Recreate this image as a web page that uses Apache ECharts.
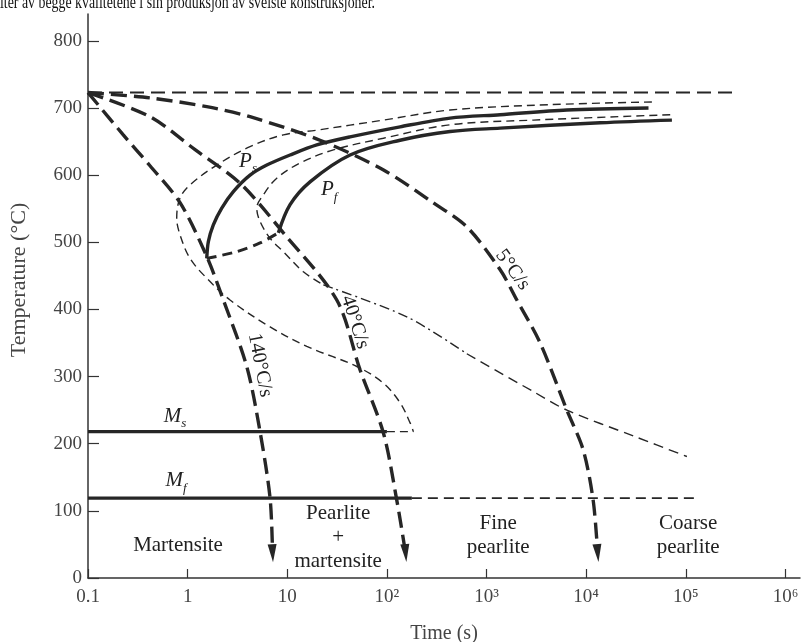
<!DOCTYPE html>
<html><head><meta charset="utf-8">
<script src="https://cdn.jsdelivr.net/npm/echarts@6/dist/echarts.min.js"></script>
<style>html,body{margin:0;padding:0;background:#fff}#c{width:801px;height:642px}</style>
</head><body><div id="c"></div>
<script>
// ---- axis ticks ----
const xTickValues = [0.1, 1, 10, 100, 1e3, 1e4, 1e5, 1e6];
const xTickLabels = ['0.1', '1', '10', '10²', '10³', '10⁴', '10⁵', '10⁶'];
const yTickValues = [0, 100, 200, 300, 400, 500, 600, 700, 800];

// ---- curves: [time (s), temperature (°C)] ----
const eutectoid = [[0.1, 723], [3.2e5, 723]];
const cool140 = [[0.1, 723], [0.226, 660], [0.419, 614], [0.839, 559], [1.555, 479], [2.283, 414], [3.92, 315], [5.33, 218], [6.72, 119], [7.12, 37]];
const cool40 = [[0.1, 723], [0.419, 687], [1.187, 638], [3.36, 588], [9.14, 514], [31.4, 414], [53.8, 310], [92.2, 216], [125.6, 116], [154, 37]];
const cool5 = [[0.1, 723], [0.419, 715], [1.555, 702], [4.23, 687], [21.3, 652], [91.6, 608], [291, 559], [634, 523], [1371, 459], [2015, 414], [3452, 350], [6397, 250], [9330, 191], [11750, 116], [13050, 37]];
const pearliteStart = [[1.555, 476], [1.614, 501], [1.811, 526], [2.2, 551], [2.876, 575.5], [4.23, 600], [6.23, 615], [10.67, 630], [19.78, 645], [42.7, 657], [135.7, 672], [431, 685], [1369, 690], [6401, 697], [42230, 700]];
const pearliteFinish = [[8.14, 514], [10.67, 556], [16.93, 590], [42.7, 630], [135.7, 652], [431, 665], [1369, 670], [13820, 678], [72520, 682]];
const noseLink = [[1.555, 476], [3.11, 486], [5.33, 499], [8.14, 514]];
const tttStart = [[45660, 709], [4351, 705], [431, 697], [92.2, 682], [19.78, 667], [9.14, 660], [4.23, 642.5], [1.96, 615], [1.057, 585.5], [0.839, 566], [0.777, 536], [0.839, 511], [1.057, 476], [1.555, 446.5], [2.666, 414], [6.72, 374], [15.7, 345], [49.9, 315], [91.6, 290.5], [135.7, 261], [171, 231], [184.5, 218]];
const tttStartHook = [[100, 218], [184.5, 218]];
const tttFinish = [[69730, 690], [2957, 682], [431, 675], [92.2, 655], [29.0, 637.6], [13.44, 618], [7.85, 595.5], [5.75, 570.6], [4.94, 551], [5.33, 531], [6.72, 506], [9.14, 486], [14.51, 456], [23.0, 436.5]];
const tttFinishDashDot = [[23.0, 436.5], [158.4, 389], [634, 334]];
const tttFinishTail = [[634, 334], [2957, 277.5], [6401, 250], [29850, 211.5], [102560, 181]];
const msLine = [[0.1, 218], [100, 218]];
const mfLine = [[0.1, 119], [178, 119]];
const mfDashed = [[178, 119], [129200, 119]];

const FONT = '"Liberation Serif", "Times New Roman", serif';
const INK = '#262626';

function curve(data, width, dash, smooth, arrowRot) {
  const d = data.map((p, i) => {
    if (arrowRot !== undefined && i === data.length - 1) {
      return { value: p, symbol: 'triangle', symbolSize: [9, 18], symbolRotate: arrowRot, itemStyle: { color: INK } };
    }
    return { value: p };
  });
  return {
    type: 'line', data: d, symbol: 'none', smooth: smooth || false, silent: true,
    lineStyle: { color: INK, width: width, type: dash || 'solid', cap: 'butt' },
    emphasis: { disabled: true }, z: 3
  };
}

const chart = echarts.init(document.getElementById('c'), null, { renderer: 'canvas' });
chart.setOption({
  animation: false,
  backgroundColor: '#fff',
  grid: { left: 88, right: 1, top: 14, bottom: 64, containLabel: false, outerBoundsMode: 'none' },
  xAxis: {
    type: 'log', logBase: 10, min: 0.1, max: 1.4e6,
    axisLine: { lineStyle: { color: '#333', width: 1.5 } },
    axisTick: { inside: true, length: 9, customValues: xTickValues, lineStyle: { color: '#333', width: 1.2 } },
    axisLabel: {
      customValues: xTickValues, margin: 10, fontFamily: FONT, fontSize: 19, color: '#444',
      formatter: v => { const i = Math.round(Math.log10(v)) + 1; return xTickLabels[i] !== undefined ? xTickLabels[i] : ''; }
    },
    splitLine: { show: false },
    name: 'Time (s)', nameLocation: 'middle', nameGap: 46,
    nameTextStyle: { fontFamily: FONT, fontSize: 20, color: '#444' }
  },
  yAxis: {
    type: 'value', min: 0, max: 840,
    axisLine: { show: true, lineStyle: { color: '#333', width: 1.5 } },
    axisTick: { show: true, inside: true, length: 11, customValues: yTickValues, lineStyle: { color: '#333', width: 1.2 } },
    axisLabel: { customValues: yTickValues, margin: 6, fontFamily: FONT, fontSize: 19, color: '#444' },
    splitLine: { show: false },
    name: 'Temperature (°C)', nameLocation: 'middle', nameGap: 58,
    nameTextStyle: { fontFamily: FONT, fontSize: 22, color: '#444', padding: [0, 0, 0, 32] }
  },
  series: [
    curve(eutectoid, 2, [14, 7]),
    curve(tttStart, 1.4, [8, 5], 0.35),
    curve(tttStartHook, 1.4, [8, 5]),
    curve(tttFinish, 1.4, [8, 5], 0.35),
    curve(tttFinishDashDot, 1.4, [10, 4, 2, 4], 0.3),
    curve(tttFinishTail, 1.4, [10, 6], 0.3),
    curve(mfDashed, 1.8, [10, 6]),
    curve(pearliteStart, 3.4, 'solid', 0.3),
    curve(pearliteFinish, 3.4, 'solid', 0.35),
    curve(noseLink, 3, [10, 6], 0.3),
    curve(msLine, 3.4, 'solid'),
    curve(mfLine, 3.4, 'solid'),
    curve(cool140, 3.4, [16, 7], 0.3, 183),
    curve(cool40, 3.4, [16, 7], 0.3, 185),
    curve(cool5, 3.4, [16, 7], 0.3, 185)
  ]
});

// ---- annotations ----
const px = (t, T) => chart.convertToPixel({ gridIndex: 0 }, [t, T]);
const deg = a => a * Math.PI / 180;
function txt(t, T, text, size, rot) {
  const p = px(t, T);
  return {
    type: 'text', x: p[0], y: p[1], rotation: deg(rot || 0), silent: true, z: 10,
    style: { text: text, fontFamily: FONT, fontSize: size, fill: '#222', align: 'center', verticalAlign: 'middle', textAlign: 'center', textVerticalAlign: 'middle', lineHeight: 24 }
  };
}
function sub(t, T, main, s) {
  const p = px(t, T);
  return {
    type: 'text', x: p[0], y: p[1], silent: true, z: 10,
    style: {
      text: '{p|' + main + '}{s|' + s + '}', align: 'center', verticalAlign: 'middle', textAlign: 'center', textVerticalAlign: 'middle',
      rich: {
        p: { fontFamily: FONT, fontStyle: 'italic', fontSize: 21, lineHeight: 28, fill: '#222' },
        s: { fontFamily: FONT, fontStyle: 'italic', fontSize: 13, lineHeight: 12, verticalAlign: 'bottom', fill: '#222' }
      }
    }
  };
}
const titleText = 'iter av begge kvalitetene i sin produksjon av sveiste konstruksjoner.';
const ctx = document.createElement('canvas').getContext('2d');
ctx.font = '18px "Liberation Serif"';
const tw = ctx.measureText(titleText).width;

chart.setOption({
  graphic: [
    { type: 'text', x: 0, y: 3, scaleX: 375 / tw, silent: true,
      style: { text: titleText, fontFamily: FONT, fontSize: 18, fill: '#111', align: 'left', verticalAlign: 'middle', textAlign: 'left', textVerticalAlign: 'middle' } },
    txt(5.33, 317, '140°C/s', 20, -79),
    txt(47.9, 381, '40°C/s', 20, -72),
    txt(1828, 459, '5°C/s', 20, -54),
    sub(4.04, 621, 'P', 's'),
    sub(26.3, 578, 'P', 'f'),
    sub(0.747, 241, 'M', 's'),
    sub(0.765, 144.5, 'M', 'f'),
    txt(0.801, 49, 'Martensite', 21, 0),
    txt(32.4, 61, 'Pearlite\n+\nmartensite', 21, 0),
    txt(1308, 64, 'Fine\npearlite', 21, 0),
    txt(105700, 64, 'Coarse\npearlite', 21, 0)
  ]
});
</script>
</body></html>
